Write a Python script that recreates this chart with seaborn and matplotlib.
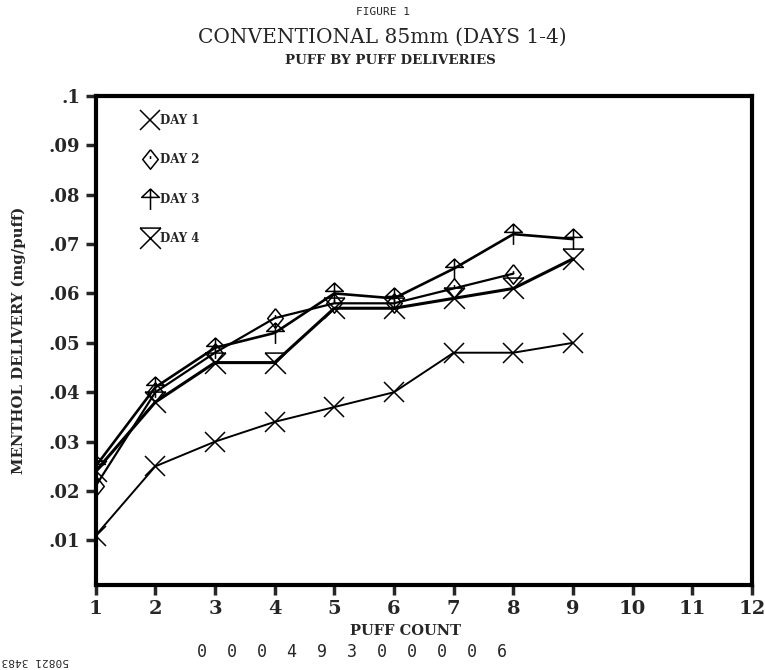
import numpy as np
import pandas as pd
import seaborn as sns
import matplotlib
matplotlib.use("Agg")
import matplotlib.pyplot as plt
from matplotlib.path import Path
from matplotlib.lines import Line2D

# values
puffs = [1, 2, 3, 4, 5, 6, 7, 8, 9]
day1 = [0.011, 0.025, 0.030, 0.034, 0.037, 0.040, 0.048, 0.048, 0.050]
day2 = [0.021, 0.040, 0.048, 0.055, 0.058, 0.058, 0.061, 0.064, np.nan]
day3 = [0.025, 0.041, 0.049, 0.052, 0.060, 0.059, 0.065, 0.072, 0.071]
day4 = [0.024, 0.038, 0.046, 0.046, 0.057, 0.057, 0.059, 0.061, 0.067]
labels = ["DAY 1", "DAY 2", "DAY 3", "DAY 4"]
x_ticks = list(range(1, 13))
y_ticks = [0.01, 0.02, 0.03, 0.04, 0.05, 0.06, 0.07, 0.08, 0.09, 0.1]
y_tick_labels = [".01", ".02", ".03", ".04", ".05", ".06", ".07", ".08", ".09", ".1"]

# hand-drawn looking markers
M, L, C = Path.MOVETO, Path.LINETO, Path.CLOSEPOLY
diamond = Path([(0, 1), (0.8, 0), (0, -1), (-0.8, 0), (0, 1), (0, 0.35), (0, 0.05)],
               [M, L, L, L, L, M, L])
arrow = Path([(0, 1), (-0.85, 0.2), (0.85, 0.2), (0, 1), (0, 1), (0, -1)],
             [M, L, L, C, M, L])
hourglass = Path([(-1, 1), (1, 1), (-1, 1), (1, -1), (1, 1), (-1, -1)],
                 [M, L, M, L, M, L])
markers = ["x", diamond, arrow, hourglass]
msizes = [15, 14, 15, 15]
lwidths = [1.4, 1.6, 1.9, 2.2]

sns.set_style("ticks")
plt.rcParams["font.family"] = ["DejaVu Serif"]

fig = plt.figure(figsize=(7.65, 6.7), dpi=100)
ax = fig.add_axes([0.125, 0.127, 0.858, 0.73])

df = pd.DataFrame({"puff": puffs, "DAY 1": day1, "DAY 2": day2, "DAY 3": day3, "DAY 4": day4})
for lab, mk, ms, lw in zip(labels, markers, msizes, lwidths):
    sns.lineplot(data=df, x="puff", y=lab, ax=ax, color="black", lw=lw,
                 marker=mk, markersize=ms, mfc="none", mec="black", mew=1.1)

ax.set_xlim(1, 12)
ax.set_ylim(0.001, 0.1)
ax.set_xticks(x_ticks)
ax.set_xticklabels([str(t) for t in x_ticks], fontsize=14, fontweight="bold")
ax.set_yticks(y_ticks)
ax.set_yticklabels(y_tick_labels, fontsize=13, fontweight="bold")
ax.tick_params(direction="out", length=7, width=2.5, pad=4)
for s in ax.spines.values():
    s.set_linewidth(3)
    s.set_color("black")
ax.set_xlabel("")
ax.set_ylabel("MENTHOL DELIVERY (mg/puff)", fontsize=10.7, fontweight="bold", labelpad=16)

handles = [Line2D([], [], ls="none", marker=mk, ms=ms, mfc="none", mec="black", mew=1.1, color="black")
           for mk, ms in zip(markers, msizes)]
ax.legend(handles, labels, loc="upper left", bbox_to_anchor=(0.055, 0.985), frameon=False,
          prop={"size": 8.5, "weight": "bold"}, labelspacing=2.25, handletextpad=0.2,
          handlelength=1.3)

fig.text(0.5, 0.982, "FIGURE 1", ha="center", va="center", fontsize=8, family="DejaVu Sans Mono")
fig.text(0.5, 0.944, "CONVENTIONAL 85mm (DAYS 1-4)", ha="center", va="center", fontsize=14.5)
fig.text(0.51, 0.909, "PUFF BY PUFF DELIVERIES", ha="center", va="center", fontsize=9.6, fontweight="bold")
fig.text(0.53, 0.058, "PUFF COUNT", ha="center", va="center", fontsize=10.5, fontweight="bold")
fig.text(0.46, 0.027, "0  0  0  4  9  3  0  0  0  0  6", ha="center", va="center", fontsize=12,
         family="DejaVu Sans Mono")
fig.text(0.002, 0.014, "50821 3483", ha="left", va="center", fontsize=8, rotation=180,
         family="DejaVu Sans Mono")

fig.savefig("out.png", dpi=100)
